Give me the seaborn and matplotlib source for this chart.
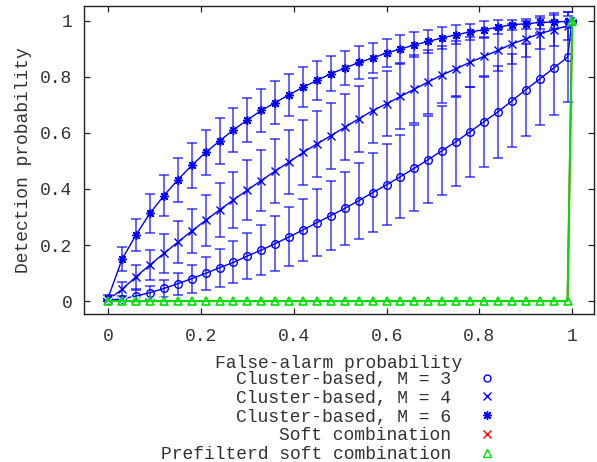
"""
検出確率 vs 誤警報確率 (gnuplot風の再現)
"""
import matplotlib
matplotlib.use('Agg')
import matplotlib.pyplot as plt
from matplotlib.lines import Line2D
import seaborn as sns

# データ
false_alarm = [0.00, 0.03, 0.06, 0.09, 0.12, 0.15, 0.18, 0.21, 0.24, 0.27,
               0.30, 0.33, 0.36, 0.39, 0.42, 0.45, 0.48, 0.51, 0.54, 0.57,
               0.60, 0.63, 0.66, 0.69, 0.72, 0.75, 0.78, 0.81, 0.84, 0.87,
               0.90, 0.93, 0.96, 0.99, 1.00]

m3_mean = [0.003, 0.008, 0.018, 0.030, 0.045, 0.062, 0.080, 0.099, 0.119, 0.138,
           0.161, 0.182, 0.205, 0.229, 0.254, 0.280, 0.305, 0.331, 0.358, 0.387,
           0.415, 0.444, 0.474, 0.505, 0.537, 0.569, 0.604, 0.640, 0.675, 0.714,
           0.754, 0.792, 0.831, 0.870, 1.000]
m3_err = [0.003, 0.008, 0.020, 0.023, 0.031, 0.040, 0.050, 0.058, 0.067, 0.075,
          0.083, 0.090, 0.097, 0.105, 0.110, 0.119, 0.124, 0.130, 0.135, 0.140,
          0.145, 0.149, 0.154, 0.155, 0.158, 0.159, 0.160, 0.160, 0.164, 0.166,
          0.164, 0.165, 0.168, 0.160, 0.000]

m4_mean = [0.005, 0.042, 0.087, 0.129, 0.170, 0.210, 0.250, 0.288, 0.325, 0.361,
           0.396, 0.430, 0.464, 0.496, 0.530, 0.561, 0.590, 0.620, 0.650, 0.679,
           0.704, 0.730, 0.756, 0.782, 0.807, 0.829, 0.852, 0.873, 0.894, 0.917,
           0.935, 0.954, 0.968, 0.982, 1.000]
m4_err = [0.005, 0.025, 0.043, 0.055, 0.068, 0.075, 0.080, 0.092, 0.098, 0.101,
          0.106, 0.109, 0.113, 0.115, 0.115, 0.117, 0.118, 0.117, 0.117, 0.116,
          0.116, 0.116, 0.120, 0.113, 0.102, 0.097, 0.090, 0.070, 0.075, 0.070,
          0.065, 0.055, 0.058, 0.050, 0.000]

m6_mean = [0.012, 0.149, 0.236, 0.313, 0.376, 0.432, 0.484, 0.530, 0.571, 0.611,
           0.646, 0.680, 0.708, 0.736, 0.763, 0.787, 0.811, 0.831, 0.851, 0.867,
           0.885, 0.899, 0.914, 0.926, 0.939, 0.950, 0.960, 0.968, 0.977, 0.986,
           0.989, 0.994, 0.995, 0.998, 1.000]
m6_err = [0.010, 0.043, 0.058, 0.070, 0.074, 0.079, 0.080, 0.082, 0.082, 0.079,
          0.079, 0.077, 0.076, 0.075, 0.071, 0.068, 0.063, 0.060, 0.058, 0.054,
          0.050, 0.050, 0.045, 0.041, 0.039, 0.034, 0.030, 0.030, 0.024, 0.018,
          0.018, 0.022, 0.025, 0.020, 0.000]

soft_comb = [0.0] * 34 + [1.0]
prefiltered_soft = [0.0] * 34 + [1.0]

tick_values = [0, 0.2, 0.4, 0.6, 0.8, 1]
tick_labels = ['0', '0.2', '0.4', '0.6', '0.8', '1']

labels = ['Cluster-based, M = 3', 'Cluster-based, M = 4', 'Cluster-based, M = 6',
          'Soft combination', 'Prefilterd soft combination']

# スタイル
sns.set_theme(style='ticks')
plt.rcParams['font.family'] = ['Liberation Mono', 'DejaVu Sans Mono']
plt.rcParams['font.size'] = 13
text_color = '#333333'

fig = plt.figure(figsize=(5.97, 4.62), dpi=100)
ax = fig.add_axes([84 / 597, 1 - 314 / 462, 510 / 597, 308 / 462])

blue = '#0000ff'
red = '#ff0000'
green = '#00e000'
asterisk = (8, 2, 0)
series = [
    (m3_mean, m3_err, 'o', 5.5),
    (m4_mean, m4_err, 'x', 6),
    (m6_mean, m6_err, asterisk, 6.5),
]

# 誤差棒つきのクラスタ系列
for mean, err, mk, ms in series:
    ax.errorbar(false_alarm, mean, yerr=err, fmt='none', ecolor=blue,
                alpha=0.65, elinewidth=1.3, capsize=3.6, capthick=1.3, zorder=2)
    sns.lineplot(x=false_alarm, y=mean, ax=ax, color=blue, marker=mk,
                 markersize=ms, markerfacecolor='none', markeredgecolor=blue,
                 markeredgewidth=1.0, linewidth=1.0, zorder=3)

# ソフト合成（赤は緑の下に少し見える程度）
sns.lineplot(x=false_alarm, y=soft_comb, ax=ax, color=red, marker='x',
             markersize=7.5, markeredgewidth=1.0, linewidth=1.3, zorder=4)
sns.lineplot(x=false_alarm, y=prefiltered_soft, ax=ax, color=green, marker='^',
             markersize=6, markerfacecolor='none', markeredgecolor=green,
             markeredgewidth=1.2, linewidth=1.5, zorder=5)

# 軸の設定
ax.set_xlim(-0.052, 1.047)
ax.set_ylim(-0.046, 1.0525)
ax.set_xticks(tick_values)
ax.set_xticklabels(tick_labels)
ax.set_yticks(tick_values)
ax.set_yticklabels(tick_labels)
ax.tick_params(axis='both', direction='in', top=True, right=True, length=4.5,
               width=0.9, color='#222222', labelcolor=text_color, labelsize=13)
ax.tick_params(axis='x', pad=10)
ax.tick_params(axis='y', pad=8.5)
for sp in ax.spines.values():
    sp.set_color('#222222')
    sp.set_linewidth(1.0)

ax.set_xlabel('False-alarm probability', fontsize=13, color=text_color, labelpad=7.5)
ax.set_ylabel('Detection probability', fontsize=13, color=text_color, labelpad=6)

# 凡例
handles = [
    Line2D([], [], ls='none', marker='o', markersize=5, markerfacecolor='none',
           markeredgecolor=blue, markeredgewidth=1.0),
    Line2D([], [], ls='none', marker='x', markersize=5.5, color=blue, markeredgewidth=1.0),
    Line2D([], [], ls='none', marker=asterisk, markersize=6.5, color=blue, markeredgewidth=1.0),
    Line2D([], [], ls='none', marker='x', markersize=5.5, color=red, markeredgewidth=1.0),
    Line2D([], [], ls='none', marker='^', markersize=5.5, markerfacecolor='none',
           markeredgecolor=green, markeredgewidth=1.0),
]
leg = ax.legend(handles, labels, loc='upper right',
                bbox_to_anchor=(505 / 597, 1 - 371 / 462), bbox_transform=fig.transFigure,
                frameon=False, markerfirst=False, handlelength=2.0, handletextpad=1.0,
                labelspacing=0.1, borderpad=0, borderaxespad=0, fontsize=13)
for t in leg.get_texts():
    t.set_color(text_color)

fig.savefig('out.png', dpi=100)
